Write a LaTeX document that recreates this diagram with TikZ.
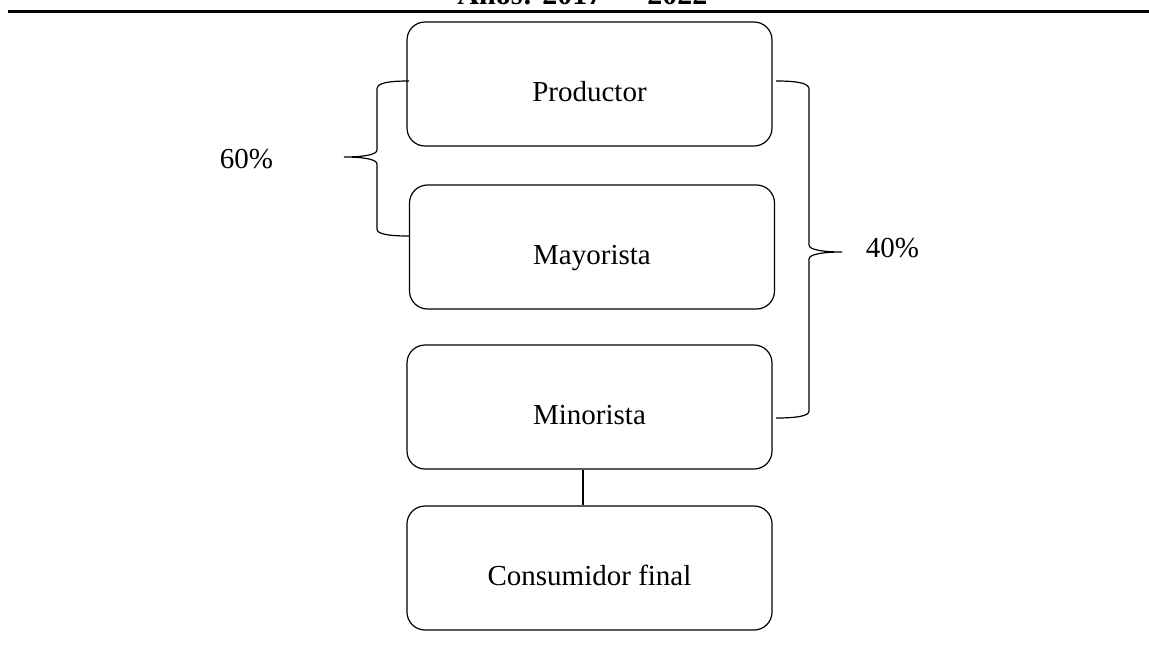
\documentclass[tikz,border=0pt]{standalone}
\usepackage{fontspec}
\setmainfont{Liberation Serif}
\begin{document}
\begin{tikzpicture}[x=1pt,y=-1pt,
  box/.style={draw, line width=1.2pt, rounded corners=18pt, minimum width=365pt, minimum height=124pt, inner sep=0pt, font=\fontsize{29}{34}\selectfont, text height=34pt, text depth=0pt},
  brace/.style={line width=1.2pt},
  conn/.style={line width=1.2pt},
  lbl/.style={font=\fontsize{29}{34}\selectfont, inner sep=0pt, anchor=base}]
\useasboundingbox (0,0) rectangle (1149,654);
% cut-off title and rule
\node[lbl, font=\bfseries\fontsize{30}{34}\selectfont] (title) at (582.5,4) {Años: 2017\hspace{0.25em} –\hspace{0.25em} 2022};
\coordinate (ruleL) at (8,11.5);
\coordinate (ruleR) at (1149,11.5);
\draw[line width=3pt] (ruleL) -- (ruleR);
% boxes
\node[box] (prod) at (589.5,84) {Productor};
\node[box] (may) at (592,247) {Mayorista};
\node[box] (min) at (589.5,407) {Minorista};
\node[box] (cons) at (589.5,568) {Consumidor final};
\draw[conn] ([xshift=-6.5pt]min.south) -- ([xshift=-6.5pt]cons.north);
% left brace
\coordinate (lt) at (409,81);
\coordinate (lb) at (409,236);
\coordinate (ltip) at (344,157);
\draw[brace] (lt) .. controls (388,81) and (377,83) .. (377,89) -- (377,150)
  .. controls (377,155) and (362,157) .. (ltip)
  .. controls (362,157) and (377,159) .. (377,164) -- (377,229)
  .. controls (377,234) and (388,236) .. (lb);
% right brace
\coordinate (rt) at (776,81);
\coordinate (rb) at (776,418);
\coordinate (rtip) at (842,252);
\draw[brace] (rt) .. controls (797,81) and (809,83) .. (809,89) -- (809,245)
  .. controls (809,250) and (824,252) .. (rtip)
  .. controls (824,252) and (809,254) .. (809,259) -- (809,411)
  .. controls (809,416) and (797,418) .. (rb);
% labels
\node[lbl] (p60) at (246.5,168) {60\%};
\node[lbl] (p40) at (892.5,257) {40\%};
\end{tikzpicture}
\end{document}
